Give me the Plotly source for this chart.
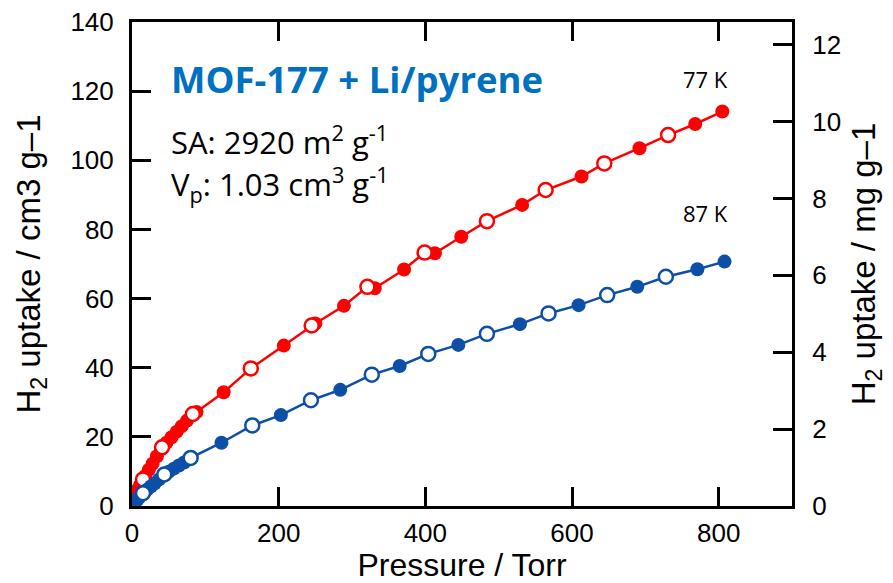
import plotly.graph_objects as go

# H2 isotherms for MOF-177 + Li/pyrene; pressure in Torr, uptake in cm3 g-1 (STP)
p77_ads = [0.3, 0.8, 1.5, 2.5, 4, 6, 8, 11, 14, 18, 23, 28, 34, 40, 47, 54, 61, 68, 75, 82, 88,
           125, 207, 250, 289, 331, 371, 413, 449, 532, 613, 692, 768, 805]
v77_ads = [0.25, 0.6, 1.1, 1.8, 2.7, 3.8, 4.8, 6.1, 7.2, 8.7, 10.5, 12.2, 14.4, 16.5, 18.3, 19.9,
           21.5, 23.1, 24.7, 26.3, 27.2,
           32.9, 46.4, 52.8, 57.9, 63.0, 68.4, 73.1, 77.9, 87.1, 95.3, 103.5, 110.5, 114.1]
p77_des = [15, 41, 83, 162, 245, 321, 399, 484, 564, 644, 731]
v77_des = [7.7, 17.0, 26.6, 39.8, 52.2, 63.4, 73.3, 82.4, 91.4, 99.1, 107.3]

p87_ads = [0.5, 1.5, 3, 5, 7.5, 10, 13, 17, 21, 26, 31, 37, 43, 50, 57, 64, 71, 78,
           122, 203, 284, 365, 445, 529, 609, 689, 771, 808]
v87_ads = [0.15, 0.4, 0.8, 1.3, 1.9, 2.5, 3.2, 4.0, 4.8, 5.7, 6.6, 7.7, 8.9, 9.9, 10.8, 11.7, 12.6, 13.5,
           18.3, 26.3, 33.6, 40.5, 46.6, 52.6, 58.1, 63.4, 68.5, 70.7]
p87_des = [15, 44, 80, 164, 244, 327, 404, 484, 568, 648, 728]
v87_des = [3.7, 9.1, 13.9, 23.3, 30.6, 38.0, 44.0, 49.8, 55.7, 61.0, 66.3]

x_ticks = [0, 200, 400, 600, 800]
y_ticks = [0, 20, 40, 60, 80, 100, 120, 140]
y2_ticks = [0, 2, 4, 6, 8, 10, 12]

CM3_PER_MG = 11.12   # cm3 (STP) of H2 per mg
RED = "#FF0000"
BLUE = "#0D4FA6"
TITLE_BLUE = "#0070C0"
AX_FONT = "Liberation Sans, Arial, sans-serif"
TXT_FONT = "Open Sans, sans-serif"

fig = go.Figure()


def add_isotherm(p_ads, v_ads, p_des, v_des, color):
    pts = sorted(zip(p_ads + p_des, v_ads + v_des))
    fig.add_trace(go.Scatter(x=[a for a, _ in pts], y=[b for _, b in pts], mode="lines",
                             line=dict(color=color, width=2.5), hoverinfo="skip"))
    fig.add_trace(go.Scatter(x=p_ads, y=v_ads, mode="markers",
                             marker=dict(size=14, color=color, line=dict(width=0))))
    fig.add_trace(go.Scatter(x=p_des, y=v_des, mode="markers",
                             marker=dict(size=14, color="white", line=dict(width=2.5, color=color))))


add_isotherm(p77_ads, v77_ads, p77_des, v77_des, RED)
add_isotherm(p87_ads, v87_ads, p87_des, v87_des, BLUE)

# secondary axis in mg g-1 (invisible anchor trace)
fig.add_trace(go.Scatter(x=[0], y=[0], yaxis="y2", mode="markers",
                         marker=dict(opacity=0), hoverinfo="skip"))

axis_common = dict(showline=True, linecolor="black", linewidth=3, ticks="inside",
                   ticklen=19, tickwidth=3, tickcolor="black", showgrid=False, zeroline=False,
                   automargin=False,
                   tickfont=dict(family=AX_FONT, size=26, color="black"))
title_font = dict(family=AX_FONT, size=32, color="black")

fig.update_layout(
    width=893, height=583,
    margin=dict(l=132, r=101, t=22, b=77),
    plot_bgcolor="white", paper_bgcolor="white",
    showlegend=False,
    xaxis=dict(range=[0, 900], tickvals=x_ticks, mirror="ticks", ticklabelstandoff=2,
               title=dict(text="Pressure / Torr", font=title_font, standoff=9),
               **axis_common),
    yaxis=dict(range=[0, 140], tickvals=y_ticks, mirror=True, ticklabelstandoff=10,
               title=dict(text="H<sub>2</sub> uptake / cm3 g\u20131",
                          font=dict(family=AX_FONT, size=33, color="black"), standoff=20),
               **axis_common),
    yaxis2=dict(range=[0, 140 / CM3_PER_MG], tickvals=y2_ticks, overlaying="y", side="right",
                ticklabelstandoff=12,
                title=dict(text="H<sub>2</sub> uptake / mg g\u20131",
                           font=dict(family=AX_FONT, size=33, color="black"), standoff=12),
                **axis_common),
)

fig.add_annotation(x=0.056, y=0.882, xref="paper", yref="paper", xanchor="left", yanchor="middle",
                   text="<b>MOF-177 + Li/pyrene</b>", showarrow=False,
                   font=dict(family=TXT_FONT, size=36.5, color=TITLE_BLUE))
fig.add_annotation(x=0.056, y=0.755, xref="paper", yref="paper", xanchor="left", yanchor="middle",
                   text="SA: 2920 m<sup>2</sup> g<sup>-1</sup>", showarrow=False,
                   font=dict(family=TXT_FONT, size=31, color="black"))
fig.add_annotation(x=0.056, y=0.664, xref="paper", yref="paper", xanchor="left", yanchor="middle",
                   text="V<sub>p</sub>: 1.03 cm<sup>3</sup> g<sup>-1</sup>", showarrow=False,
                   font=dict(family=TXT_FONT, size=31, color="black"))
fig.add_annotation(x=782, y=123.6, xanchor="center", yanchor="middle", text="77 K",
                   showarrow=False, font=dict(family=TXT_FONT, size=22, color="black"))
fig.add_annotation(x=782, y=84.8, xanchor="center", yanchor="middle", text="87 K",
                   showarrow=False, font=dict(family=TXT_FONT, size=22, color="black"))

fig.write_html("out.html")
